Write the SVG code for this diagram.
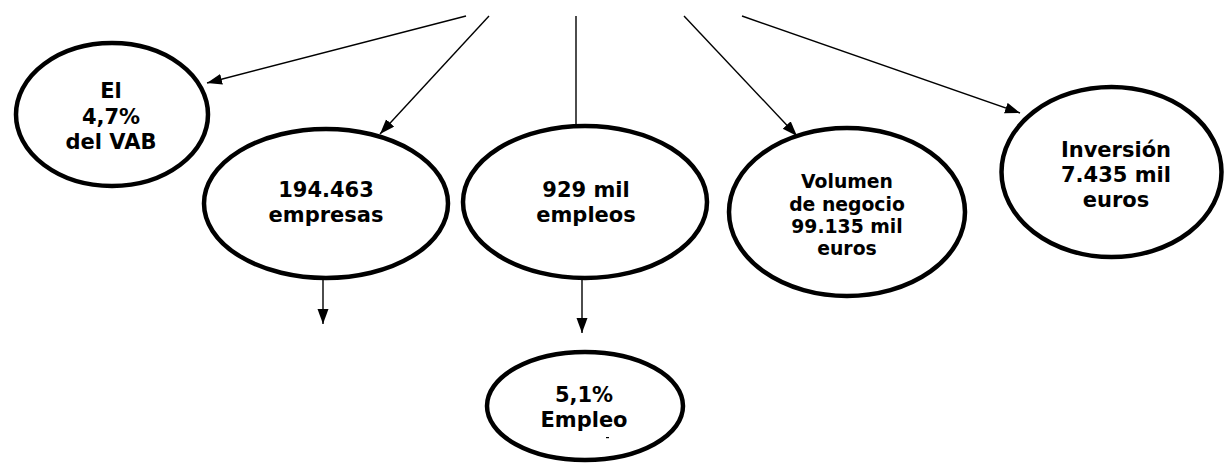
<svg xmlns="http://www.w3.org/2000/svg" width="1224" height="463" viewBox="0 0 1224 463">
<style>
.node{fill:#fff;stroke:#000;stroke-width:4.5}
.t{font-family:"DejaVu Sans","Liberation Sans",sans-serif;font-weight:bold;font-size:21px;text-anchor:middle;fill:#000}
.s{font-size:18.8px}
.c{stroke:#000;stroke-width:1.4;fill:none}
</style>
<defs>
<marker id="ah" markerUnits="userSpaceOnUse" markerWidth="16" markerHeight="12" refX="15" refY="5.5" orient="auto">
<path d="M0,0 L15,5.5 L0,11 z" fill="#000"/>
</marker>
</defs>
<rect width="1224" height="463" fill="#fff"/>
<g id="connectors">
<line class="c" x1="466" y1="16" x2="207" y2="83" marker-end="url(#ah)"/>
<line class="c" x1="489" y1="16" x2="380" y2="134" marker-end="url(#ah)"/>
<line class="c" x1="576" y1="16" x2="576" y2="126"/>
<line class="c" x1="684" y1="16" x2="797" y2="136" marker-end="url(#ah)"/>
<line class="c" x1="742" y1="16" x2="1020" y2="113" marker-end="url(#ah)"/>
<line class="c" x1="323" y1="280" x2="323" y2="324" marker-end="url(#ah)"/>
<line class="c" x1="582" y1="280" x2="582" y2="333" marker-end="url(#ah)"/>
</g>
<g id="vab">
<ellipse class="node" cx="112" cy="114.5" rx="96" ry="71.5"/>
<text class="t" x="111" y="98">El</text>
<text class="t" x="111" y="124">4,7%</text>
<text class="t" x="111" y="149">del VAB</text>
</g>
<g id="empresas">
<ellipse class="node" cx="326" cy="203.5" rx="122" ry="74.5"/>
<text class="t" x="326" y="197">194.463</text>
<text class="t" x="326" y="222">empresas</text>
</g>
<g id="empleos">
<ellipse class="node" cx="585" cy="202" rx="122" ry="76"/>
<text class="t" x="586" y="197">929 mil</text>
<text class="t" x="586" y="222">empleos</text>
</g>
<g id="volumen">
<ellipse class="node" cx="847" cy="212" rx="118" ry="84"/>
<text class="t s" x="847" y="188">Volumen</text>
<text class="t s" x="847" y="211">de negocio</text>
<text class="t s" x="847" y="233">99.135 mil</text>
<text class="t s" x="847" y="255">euros</text>
</g>
<g id="inversion">
<ellipse class="node" cx="1111.5" cy="172" rx="110" ry="85"/>
<text class="t" x="1116" y="157">Inversión</text>
<text class="t" x="1116" y="182">7.435 mil</text>
<text class="t" x="1116" y="207">euros</text>
</g>
<g id="empleo51">
<ellipse class="node" cx="585" cy="406" rx="98" ry="54"/>
<text class="t" x="584" y="402">5,1%</text>
<text class="t" x="584" y="427">Empleo</text>
<rect x="606" y="437" width="3" height="1.2" fill="#000"/>
</g>
</svg>
